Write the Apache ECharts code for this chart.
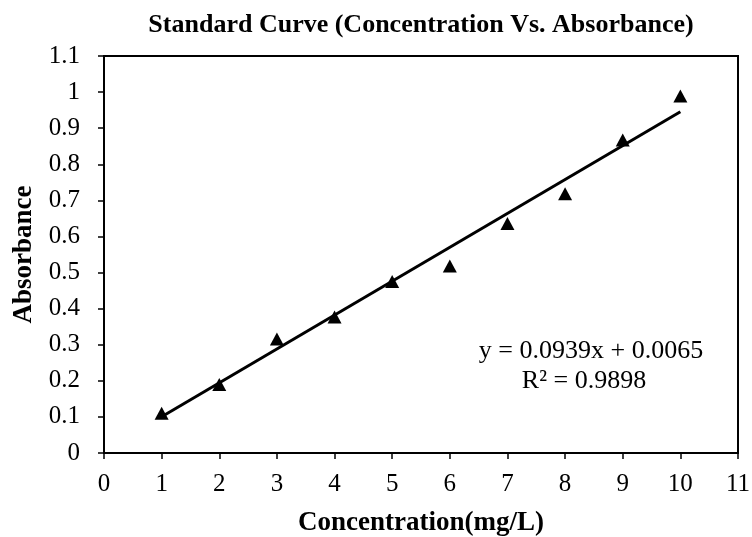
<!DOCTYPE html>
<html>
<head>
<meta charset="utf-8">
<script src="https://cdn.jsdelivr.net/npm/echarts@6/dist/echarts.min.js"></script>
<style>
  html, body { margin: 0; padding: 0; background: #fff; }
  #chart { width: 752px; height: 537px; }
</style>
</head>
<body>
<div id="chart"></div>
<script>
  // measured standards
  var concentration = [1, 2, 3, 4, 5, 6, 7, 8, 9, 10];
  var absorbance = [0.11, 0.19, 0.316, 0.377, 0.475, 0.518, 0.636, 0.718, 0.867, 0.989];

  // linear trendline as printed on the chart
  var slope = 0.0939;
  var intercept = 0.0065;
  var equationText = 'y = 0.0939x + 0.0065';
  var r2Text = 'R² = 0.9898';

  var serif = '"Liberation Serif", "Times New Roman", serif';

  var points = concentration.map(function (x, i) { return [x, absorbance[i]]; });
  var xFirst = concentration[0];
  var xLast = concentration[concentration.length - 1];
  var trend = [
    [xFirst, slope * xFirst + intercept],
    [xLast, slope * xLast + intercept]
  ];

  var chart = echarts.init(document.getElementById('chart'));
  chart.setOption({
    animation: false,
    title: {
      text: 'Standard Curve (Concentration Vs. Absorbance)',
      left: 416,
      textAlign: 'center',
      top: 7,
      textStyle: { fontFamily: serif, fontWeight: 'bold', fontSize: 26, color: '#000' }
    },
    grid: {
      left: 104,
      right: 14,
      top: 56,
      bottom: 84,
      outerBoundsMode: 'none',
      containLabel: false,
      show: true,
      borderColor: '#000',
      borderWidth: 2,
      backgroundColor: '#fff'
    },
    xAxis: {
      type: 'value',
      min: 0,
      max: 11,
      interval: 1,
      name: 'Concentration(mg/L)',
      nameLocation: 'middle',
      nameGap: 57,
      nameTextStyle: { fontFamily: serif, fontWeight: 'bold', fontSize: 27, color: '#000' },
      axisLine: { show: true, onZero: false, lineStyle: { color: '#000', width: 2 } },
      axisTick: { show: true, inside: false, length: 6, lineStyle: { color: '#000', width: 1.5 } },
      axisLabel: { fontFamily: serif, fontSize: 25, color: '#000', margin: 19 },
      splitLine: { show: false }
    },
    yAxis: {
      type: 'value',
      min: 0,
      max: 1.1,
      interval: 0.1,
      name: 'Absorbance',
      nameLocation: 'middle',
      nameGap: 64,
      nameTextStyle: { fontFamily: serif, fontWeight: 'bold', fontSize: 27, color: '#000' },
      axisLine: { show: true, onZero: false, lineStyle: { color: '#000', width: 2 } },
      axisTick: { show: true, inside: false, length: 6, lineStyle: { color: '#000', width: 1.5 } },
      axisLabel: {
        fontFamily: serif, fontSize: 25, color: '#000', margin: 24,
        formatter: function (v) { return String(Math.round(v * 10) / 10); }
      },
      splitLine: { show: false }
    },
    graphic: [
      {
        type: 'text',
        x: 591,
        y: 351,
        style: {
          text: equationText, fontFamily: serif, fontSize: 26, fill: '#000',
          align: 'center', verticalAlign: 'middle'
        }
      },
      {
        type: 'text',
        x: 584,
        y: 381,
        style: {
          text: r2Text, fontFamily: serif, fontSize: 26, fill: '#000',
          align: 'center', verticalAlign: 'middle'
        }
      }
    ],
    series: [
      {
        name: 'Trendline',
        type: 'line',
        data: trend,
        symbol: 'none',
        lineStyle: { color: '#000', width: 3 },
        z: 2
      },
      {
        name: 'Absorbance',
        type: 'scatter',
        data: points,
        symbol: 'triangle',
        symbolSize: [14, 13],
        itemStyle: { color: '#000', opacity: 1 },
        z: 3
      }
    ]
  });
</script>
</body>
</html>
